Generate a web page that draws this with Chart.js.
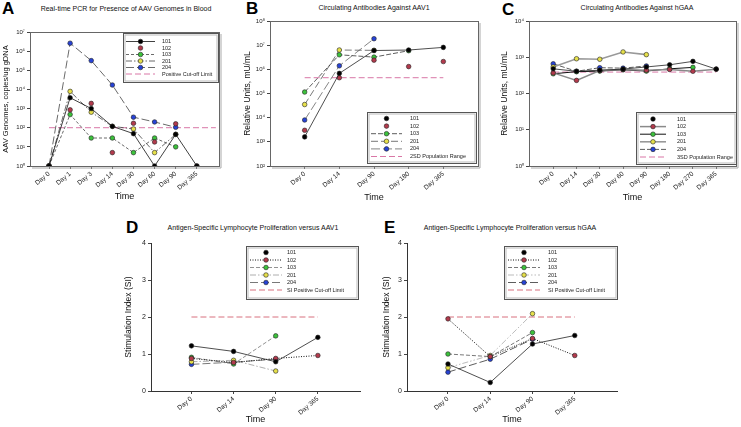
<!DOCTYPE html>
<html>
<head>
<meta charset="utf-8">
<script src="https://cdn.jsdelivr.net/npm/chart.js@4.4.1/dist/chart.umd.min.js"></script>
<style>
  body { margin: 0; background: #fff; width: 741px; height: 427px; position: relative; overflow: hidden;
         font-family: "Liberation Sans", Arial, sans-serif; }
  canvas { position: absolute; }
  .ttl { position: absolute; font-size: 7px; color: #111; white-space: nowrap; transform: translateX(-50%); }
  .let { position: absolute; font-weight: bold; font-size: 17px; color: #000; line-height: 1; }
</style>
</head>
<body>
<div class="let" style="left:2px;top:0px">A</div>
<div class="let" style="left:246px;top:0px">B</div>
<div class="let" style="left:502px;top:1px">C</div>
<div class="let" style="left:126px;top:219px">D</div>
<div class="let" style="left:384px;top:219px">E</div>
<div class="ttl" style="left:126px;top:5px">Real-time PCR for Presence of AAV Genomes in Blood</div>
<div class="ttl" style="left:374px;top:4px">Circulating Antibodies Against AAV1</div>
<div class="ttl" style="left:637px;top:4px">Circulating Antibodies Against hGAA</div>
<div class="ttl" style="left:253px;top:224px">Antigen-Specific Lymphocyte Proliferation versus AAV1</div>
<div class="ttl" style="left:510px;top:224px">Antigen-Specific Lymphocyte Proliferation versus hGAA</div>
<canvas id="cA"></canvas>
<canvas id="cB"></canvas>
<canvas id="cC"></canvas>
<canvas id="cD"></canvas>
<canvas id="cE"></canvas>
<script>
// panel A - AAV genomes (copies/ug gDNA)
const daysA = ['Day 0', 'Day 1', 'Day 3', 'Day 14', 'Day 30', 'Day 60', 'Day 90', 'Day 365'];
const a101 = [1, 3700, 1000, 118, 49, 1, 45, 1];
const a102 = [1, 860, 1860, 5, 170, 18, 160, 1];
const a103 = [1, 490, 29, 29, 5, 29, 10, null];
const a201 = [1, 7900, 650, 118, 86, 5, 45, null];
const a204 = [1, 2.6e6, 3.2e5, 1.7e4, 355, 200, 105, null];
const aCutoff = 100;

// panel B - antibodies against AAV1 (mU/mL)
const daysB = ['Day 0', 'Day 14', 'Day 90', 'Day 180', 'Day 365'];
const b101 = [1600, 6.8e5, 6.0e6, 6.3e6, 8.1e6];
const b102 = [3000, 4.5e5, 2.4e6, 1.3e6, 2.1e6];
const b103 = [1.15e5, 4.0e6, 3.2e6, 5.9e6, null];
const b201 = [3.5e4, 6.3e6, 6.1e6, null, null];
const b204 = [8000, 1.4e6, 1.85e7, null, null];
const bCutoff = 4.5e5;

// panel C - antibodies against hGAA (mU/mL)
const daysC = ['Day 0', 'Day 14', 'Day 30', 'Day 60', 'Day 90', 'Day 180', 'Day 270', 'Day 365'];
const c101 = [480, 410, 440, 470, 540, 620, 770, 470];
const c102 = [370, 230, 430, 460, 440, 460, 410, 470];
const c103 = [350, 400, 415, 450, 415, 480, 525, null];
const c201 = [540, 910, 880, 1400, 1180, null, null, null];
const c204 = [660, 410, 515, 500, 575, null, null, null];
const cCutoff = 390;

// panels D/E - stimulation index
const daysD = ['Day 0', 'Day 14', 'Day 90', 'Day 365'];
const d101 = [1.22, 1.07, 0.79, 1.45];
const d102 = [0.88, 0.77, 0.88, 0.96];
const d103 = [0.91, 0.73, 1.49, null];
const d201 = [0.79, 0.83, 0.54, null];
const d204 = [0.72, 0.78, 0.86, null];
const e101 = [0.73, 0.23, 1.27, 1.50];
const e102 = [1.95, 0.93, 1.42, 0.96];
const e103 = [1.00, 0.93, 1.58, null];
const e201 = [0.63, 0.96, 2.09, null];
const e204 = [0.51, 0.86, 1.40, null];
const siCutoff = 2;

const FONT = '"Liberation Sans", Arial, sans-serif';
const COL = { k: '#000000', r: '#b23a4c', g: '#3cc23c', y: '#e6e04a', b: '#2743d6' };
const SUP = { '0': '\u2070', '1': '\u00b9', '2': '\u00b2', '3': '\u00b3', '4': '\u2074', '5': '\u2075', '6': '\u2076', '7': '\u2077', '8': '\u2078' };

const pts = arr => arr.map((v, i) => v == null ? null : { x: i, y: v }).filter(p => p);

function series(label, values, color, line) {
  return {
    label, data: pts(values),
    showLine: line.show !== false, legendLine: line.legend !== false,
    borderColor: line.color || '#333', borderWidth: line.width || 0.8, borderDash: line.dash || [],
    pointRadius: 2.3, pointBackgroundColor: color, pointBorderColor: '#222', pointBorderWidth: 0.6
  };
}
function cutoff(label, value, x0, x1, color) {
  return {
    label, data: [{ x: x0, y: value }, { x: x1, y: value }],
    showLine: true, borderColor: color, borderWidth: 1, borderDash: [6, 3], pointRadius: 0
  };
}

const boxLegend = {
  id: 'boxLegend',
  afterDatasetsDraw(chart, args, o) {
    const ctx = chart.ctx;
    ctx.save();
    ctx.fillStyle = '#fff';
    ctx.fillRect(o.x, o.y, o.w, o.h);
    ctx.strokeStyle = '#555'; ctx.lineWidth = 1;
    ctx.strokeRect(o.x + 0.5, o.y + 0.5, o.w, o.h);
    ctx.strokeStyle = '#bbb';
    ctx.strokeRect(o.x + 2, o.y + 2, o.w - 3, o.h - 3);
    chart.data.datasets.forEach((ds, i) => {
      const y = o.row0 + i * o.dy;
      if (ds.showLine && ds.legendLine !== false) {
        ctx.strokeStyle = ds.borderColor; ctx.lineWidth = ds.borderWidth;
        ctx.setLineDash(ds.borderDash || []);
        ctx.beginPath(); ctx.moveTo(o.lx0, y); ctx.lineTo(o.lx1, y); ctx.stroke();
        ctx.setLineDash([]);
      }
      if (ds.pointRadius > 0) {
        ctx.beginPath(); ctx.arc((o.lx0 + o.lx1) / 2, y, ds.pointRadius, 0, Math.PI * 2);
        ctx.fillStyle = ds.pointBackgroundColor; ctx.fill();
        ctx.strokeStyle = ds.pointBorderColor; ctx.lineWidth = ds.pointBorderWidth; ctx.stroke();
      }
      ctx.fillStyle = '#222'; ctx.font = '5.5px ' + FONT;
      ctx.textBaseline = 'middle'; ctx.textAlign = 'left';
      ctx.fillText(ds.label, o.tx, y);
    });
    ctx.restore();
  }
};

const frame = {
  id: 'frame',
  beforeDatasetsDraw(chart, args, o) {
    if (!o.on) return;
    const a = chart.chartArea, ctx = chart.ctx;
    ctx.save();
    ctx.strokeStyle = '#666'; ctx.lineWidth = 1;
    ctx.strokeRect(a.left + 0.5, a.top + 0.5, a.right - a.left, a.bottom - a.top);
    ctx.strokeStyle = '#aaa';
    ctx.beginPath();
    ctx.moveTo(a.right + 2, a.top + 2); ctx.lineTo(a.right + 2, a.bottom + 2); ctx.lineTo(a.left + 2, a.bottom + 2);
    ctx.stroke();
    ctx.restore();
  }
};

function makePanel(id, p) {
  const cv = document.getElementById(id);
  const [bx, by, bw, bh] = p.box;
  const [al, at, ar, ab] = p.area;
  cv.width = bw; cv.height = bh;
  cv.style.left = bx + 'px'; cv.style.top = by + 'px';
  const lg = p.legend;
  const yScale = p.log ? {
    type: 'logarithmic', min: p.ymin, max: p.ymax,
    afterBuildTicks: s => {
      const t = [];
      for (let e = Math.log10(p.ymin); e <= Math.log10(p.ymax); e++) t.push({ value: Math.pow(10, e) });
      s.ticks = t;
    },
    ticks: { callback: v => '10' + SUP[String(Math.round(Math.log10(v)))], font: { size: 6, family: FONT }, color: '#222', padding: 2 }
  } : {
    type: 'linear', min: p.ymin, max: p.ymax,
    ticks: { stepSize: 1, font: { size: 7, family: FONT }, color: '#222', padding: 2 }
  };
  Object.assign(yScale, {
    afterFit: s => { s.width = al - bx; },
    grid: { drawOnChartArea: false, drawTicks: true, tickLength: 3, color: '#444' },
    border: { display: !p.frame, color: '#333' },
    title: { display: true, text: p.ytitle, color: '#111', font: { size: p.ytsize, family: FONT }, padding: { top: p.ytpad, bottom: 0 } }
  });
  return new Chart(cv, {
    type: 'scatter',
    data: { datasets: p.datasets },
    plugins: [boxLegend, frame],
    options: {
      responsive: false, animation: false, devicePixelRatio: 1,
      layout: { padding: { left: 0, top: at - by, right: bx + bw - ar, bottom: 0 } },
      scales: {
        x: {
          type: 'linear', min: p.xmin, max: p.xmax,
          afterBuildTicks: s => { s.ticks = p.labels.map((l, i) => ({ value: i })); },
          afterFit: s => { s.height = by + bh - ab; },
          ticks: { callback: v => p.labels[v], autoSkip: false, minRotation: 40, maxRotation: 40,
                   font: { size: 6.5, family: FONT }, color: '#222', padding: 1 },
          grid: { drawOnChartArea: false, drawTicks: true, tickLength: 3, color: '#444' },
          border: { display: !p.frame, color: '#333' },
          title: { display: true, text: 'Time', color: '#111', font: { size: 9, family: FONT }, padding: { top: 0, bottom: p.xtpad } }
        },
        y: yScale
      },
      plugins: {
        legend: { display: false }, tooltip: { enabled: false },
        frame: { on: p.frame },
        boxLegend: {
          x: lg.box[0] - bx, y: lg.box[1] - by, w: lg.box[2], h: lg.box[3],
          lx0: lg.line[0] - bx, lx1: lg.line[1] - bx, tx: lg.text - bx,
          row0: lg.row0 - by, dy: lg.dy
        }
      }
    }
  });
}

const pinkA = '#d977a6';
const pinkD = '#d8707e';

makePanel('cA', {
  box: [0, 0, 240, 206], area: [30, 32, 219, 166], frame: true,
  log: true, ymin: 1, ymax: 1e7, xmin: -0.9, xmax: 8.05, labels: daysA,
  ytitle: 'AAV Genomes, copies/ug gDNA', ytsize: 7.5, ytpad: 1.5, xtpad: 4,
  legend: { box: [123, 33, 95, 49], line: [126, 155], text: 162, row0: 41.5, dy: 6.5 },
  datasets: [
    series('101', a101, COL.k, { color: '#111' }),
    series('102', a102, COL.r, { show: false }),
    series('103', a103, COL.g, { dash: [3, 2], color: '#444' }),
    series('201', a201, COL.y, { dash: [6, 2, 1.5, 2], color: '#444' }),
    series('204', a204, COL.b, { dash: [8, 3], color: '#444' }),
    cutoff('Positive Cut-off Limit', aCutoff, 0, 7.9, pinkA)
  ]
});

makePanel('cB', {
  box: [241, 0, 249, 206], area: [270, 21, 478, 166], frame: true,
  log: true, ymin: 100, ymax: 1e8, xmin: -1, xmax: 5, labels: daysB,
  ytitle: 'Relative Units, mU/mL', ytsize: 8.5, ytpad: 2, xtpad: 3,
  legend: { box: [367, 112, 109, 51], line: [371, 402], text: 410, row0: 118.5, dy: 7.6 },
  datasets: [
    series('101', b101, COL.k, { color: '#222', legend: false }),
    series('102', b102, COL.r, { show: false }),
    series('103', b103, COL.g, { dash: [5, 2], color: '#333' }),
    series('201', b201, COL.y, { dash: [7, 3], color: '#555' }),
    series('204', b204, COL.b, { dash: [9, 3], color: '#666' }),
    cutoff('2SD Population Range', bCutoff, 0, 4, pinkA)
  ]
});

makePanel('cC', {
  box: [495, 0, 246, 206], area: [529, 21, 736, 166], frame: true,
  log: true, ymin: 1, ymax: 1e4, xmin: -1.04, xmax: 7.85, labels: daysC,
  ytitle: 'Relative Units, mU/mL', ytsize: 8.5, ytpad: 5, xtpad: 3,
  legend: { box: [636, 112, 100, 52], line: [640, 666], text: 677, row0: 119, dy: 7.6 },
  datasets: [
    series('101', c101, COL.k, { color: '#222', legend: false }),
    series('102', c102, COL.r, { color: '#8a8a8a', width: 1.5 }),
    series('103', c103, COL.g, { color: '#111', width: 1 }),
    series('201', c201, COL.y, { color: '#999', width: 1.6 }),
    series('204', c204, COL.b, { dash: [5, 2], color: '#333' }),
    cutoff('3SD Population Range', cCutoff, 0, 7, pinkA)
  ]
});

makePanel('cD', {
  box: [115, 215, 255, 212], area: [151, 243, 360, 391], frame: false,
  log: false, ymin: 0, ymax: 4, xmin: -0.96, xmax: 4, labels: daysD,
  ytitle: 'Stimulation Index (SI)', ytsize: 8.5, ytpad: 9, xtpad: 2,
  legend: { box: [246, 246, 112, 53], line: [250, 282], text: 287, row0: 252.5, dy: 7.5 },
  datasets: [
    series('101', d101, COL.k, { color: '#222', legend: false }),
    series('102', d102, COL.r, { dash: [1, 1.5], color: '#111', width: 1 }),
    series('103', d103, COL.g, { dash: [4, 2], color: '#777' }),
    series('201', d201, COL.y, { dash: [6, 2, 1.5, 2], color: '#999' }),
    series('204', d204, COL.b, { dash: [8, 3], color: '#555' }),
    cutoff('SI Positive Cut-off Limit', siCutoff, 0, 3, pinkD)
  ]
});

makePanel('cE', {
  box: [375, 215, 255, 212], area: [407, 243, 617, 391], frame: false,
  log: false, ymin: 0, ymax: 4, xmin: -0.97, xmax: 4, labels: daysD,
  ytitle: 'Stimulation Index (SI)', ytsize: 8.5, ytpad: 7, xtpad: 2,
  legend: { box: [504, 246, 113, 53], line: [508, 540], text: 548, row0: 252.5, dy: 7.5 },
  datasets: [
    series('101', e101, COL.k, { color: '#222', legend: false }),
    series('102', e102, COL.r, { dash: [1, 1.5], color: '#111', width: 1 }),
    series('103', e103, COL.g, { dash: [4, 2], color: '#555' }),
    series('201', e201, COL.y, { dash: [6, 2, 1.5, 2, 1.5, 2], color: '#aaa' }),
    series('204', e204, COL.b, { dash: [8, 3], color: '#333' }),
    cutoff('SI Positive Cut-off Limit', siCutoff, 0, 3, pinkD)
  ]
});
</script>
</body>
</html>
